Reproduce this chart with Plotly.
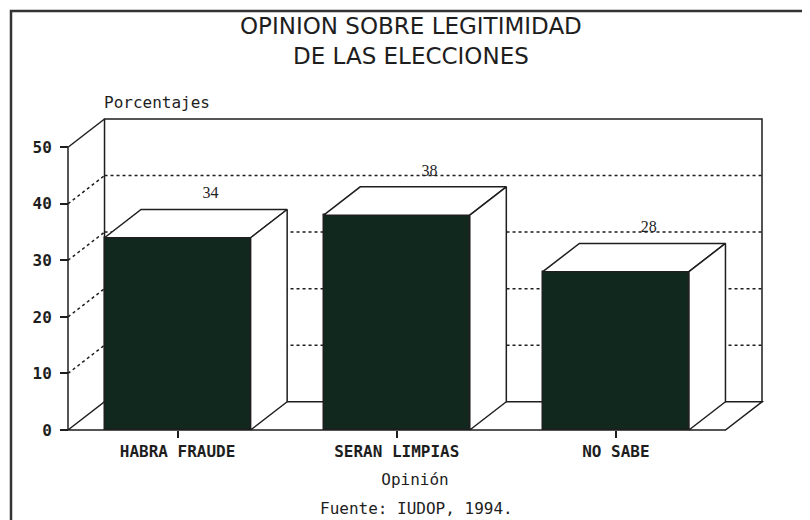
import plotly.graph_objects as go

# ---------------- data ----------------
categories = ["HABRA FRAUDE", "SERAN LIMPIAS", "NO SABE"]
values = [34, 38, 28]
y_tick_values = [0, 10, 20, 30, 40, 50]
grid_values = [10, 20, 30, 40]
title_lines = ["OPINION SOBRE LEGITIMIDAD", "DE LAS ELECCIONES"]
y_title = "Porcentajes"
x_title = "Opinión"
source_text = "Fuente: IUDOP, 1994."

# ---------------- geometry / style ----------------
OFF = 8                      # page body margin in the browser
W, H = 810 - OFF, 520 - OFF
ML, MR, MT, MB = 62 - OFF, 42, 114 - OFF, 85
PW, PH = W - ML - MR, H - MT - MB
BAR_W = 2 / 3
DX = 1 / 6          # depth offset (x units)
DY = 5              # depth offset (y units)
YTOP = max(y_tick_values)
X0 = -0.5
X1 = len(categories) - 0.5 + DX
PAD_X, PAD_Y = 6, 5  # px between plot edge and the 3D box
SX = (PW - 2 * PAD_X) / (X1 - X0)
SY = (PH - 2 * PAD_Y) / (YTOP + DY)
xrange = [X0 - PAD_X / SX, X1 + PAD_X / SX]
yrange = [-PAD_Y / SY, YTOP + DY + PAD_Y / SY]

FACE = "#11281f"
INK = "#1e1e1e"
LW = 1.5
MONO = "DejaVu Sans Mono"


def px2paper_x(px):
    # px given in screenshot coordinates
    return (px - OFF - ML) / PW


def px2paper_y(py):
    return (H - MB - (py - OFF)) / PH


xpos = list(range(len(categories)))
hw = BAR_W / 2

fig = go.Figure()

# front faces of the bars
fig.add_trace(go.Bar(
    x=xpos, y=values, width=BAR_W,
    marker=dict(color=FACE, line=dict(color=INK, width=LW)),
    hoverinfo="skip", showlegend=False,
))

# top faces
tx, ty = [], []
for i, v in zip(xpos, values):
    tx += [i - hw, i - hw + DX, i + hw + DX, i + hw, i - hw, None]
    ty += [v, v + DY, v + DY, v, v, None]
fig.add_trace(go.Scatter(
    x=tx, y=ty, mode="lines", fill="toself", fillcolor="white",
    line=dict(color=INK, width=LW), hoverinfo="skip", showlegend=False,
))

# right side faces
sx, sy = [], []
for i, v in zip(xpos, values):
    sx += [i + hw, i + hw + DX, i + hw + DX, i + hw, i + hw, None]
    sy += [0, DY, v + DY, v, 0, None]
fig.add_trace(go.Scatter(
    x=sx, y=sy, mode="lines", fill="toself", fillcolor="white",
    line=dict(color=INK, width=LW), hoverinfo="skip", showlegend=False,
))

# value labels
fig.add_trace(go.Scatter(
    x=[i + 0.15 for i in xpos], y=[v + DY + 2.7 for v in values],
    text=[str(v) for v in values], mode="text",
    textfont=dict(family="Liberation Serif", size=16, color=INK),
    hoverinfo="skip", showlegend=False,
))

# ---------------- box (walls, floor, grid) ----------------
shapes = []
shapes.append(dict(type="rect", xref="x", yref="y", layer="below",
                   x0=X0 + DX, x1=X1, y0=DY, y1=YTOP + DY,
                   line=dict(color=INK, width=LW), fillcolor="white"))
shapes.append(dict(type="path", xref="x", yref="y", layer="below",
                   path=f"M {X0},0 L {X0 + DX},{DY} L {X1},{DY} L {X1 - DX},0 Z",
                   line=dict(color=INK, width=LW), fillcolor="white"))
shapes.append(dict(type="line", xref="x", yref="y", layer="below",
                   x0=X0, x1=X0, y0=0, y1=YTOP, line=dict(color=INK, width=LW)))
shapes.append(dict(type="line", xref="x", yref="y", layer="below",
                   x0=X0, x1=X0 + DX, y0=YTOP, y1=YTOP + DY, line=dict(color=INK, width=LW)))
for g in grid_values:
    shapes.append(dict(type="line", xref="x", yref="y", layer="below",
                       x0=X0, x1=X0 + DX, y0=g, y1=g + DY,
                       line=dict(color=INK, width=LW, dash="dot")))
    shapes.append(dict(type="line", xref="x", yref="y", layer="below",
                       x0=X0 + DX, x1=X1, y0=g + DY, y1=g + DY,
                       line=dict(color=INK, width=LW, dash="dot")))
# scanned page frame: left and top edges
shapes.append(dict(type="path", xref="paper", yref="paper", layer="below",
                   path=(f"M {px2paper_x(11)},{px2paper_y(530)} "
                         f"L {px2paper_x(11)},{px2paper_y(11)} "
                         f"L {px2paper_x(809)},{px2paper_y(11)}"),
                   line=dict(color="#333", width=2.5)))

annotations = [
    dict(text="<br>".join(title_lines), xref="paper", yref="paper",
         x=px2paper_x(411), y=px2paper_y(41), xanchor="center", yanchor="middle",
         showarrow=False, align="center",
         font=dict(family="DejaVu Sans", size=23, color=INK)),
    dict(text=y_title, xref="paper", yref="paper",
         x=px2paper_x(102), y=px2paper_y(102), xanchor="left", yanchor="middle",
         showarrow=False, font=dict(family=MONO, size=16, color=INK)),
    dict(text=source_text, xref="paper", yref="paper",
         x=px2paper_x(416), y=px2paper_y(508), xanchor="center", yanchor="middle",
         showarrow=False, font=dict(family=MONO, size=16, color=INK)),
]

fig.update_layout(
    width=W, height=H,
    margin=dict(l=ML, r=MR, t=MT, b=MB, autoexpand=False),
    paper_bgcolor="white", plot_bgcolor="white",
    showlegend=False, bargap=0,
    shapes=shapes, annotations=annotations,
    xaxis=dict(
        range=xrange, tickmode="array", tickvals=xpos, ticktext=categories,
        ticks="outside", ticklen=7, tickwidth=LW, tickcolor=INK,
        showgrid=False, zeroline=False, showline=False,
        anchor="free", position=PAD_Y / PH,
        tickfont=dict(family=MONO, size=16, color=INK, weight="bold"),
        title=dict(text=x_title, font=dict(family=MONO, size=16, color=INK), standoff=13),
        fixedrange=True,
    ),
    yaxis=dict(
        range=yrange, tickmode="array", tickvals=y_tick_values,
        ticks="outside", ticklen=8, tickwidth=LW, tickcolor=INK,
        ticklabelstandoff=5,
        showgrid=False, zeroline=False, showline=False,
        anchor="free", position=PAD_X / PW,
        tickfont=dict(family=MONO, size=16, color=INK, weight="bold"),
        fixedrange=True,
    ),
)

fig.write_html("out.html")
